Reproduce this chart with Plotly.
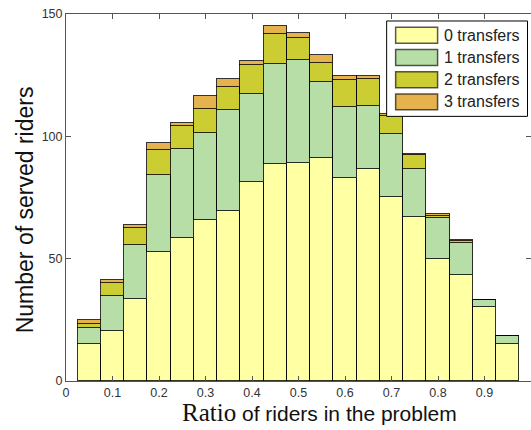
import plotly.graph_objects as go

# ---------------- data ----------------
bin_centers = [0.05, 0.10, 0.15, 0.20, 0.25, 0.30, 0.35, 0.40, 0.45, 0.50,
               0.55, 0.60, 0.65, 0.70, 0.75, 0.80, 0.85, 0.90, 0.95]
bin_width = 0.05

transfers_0 = [15.1, 20.4, 33.5, 52.8, 58.5, 66.0, 69.5, 81.3, 88.8, 89.3,
               91.1, 83.1, 86.5, 75.2, 67.1, 49.7, 43.5, 30.1, 15.1]
transfers_1 = [6.4, 14.3, 21.9, 31.3, 36.5, 35.5, 41.4, 36.1, 40.6, 42.0,
               31.1, 29.0, 26.0, 25.9, 19.4, 17.1, 12.8, 3.2, 3.3]
transfers_2 = [1.8, 5.2, 7.3, 10.5, 9.1, 9.8, 9.2, 11.9, 12.5, 8.8,
               7.9, 11.0, 11.0, 7.2, 5.7, 0.8, 1.0, 0.0, 0.0]
transfers_3 = [1.6, 1.3, 1.1, 2.7, 1.5, 5.1, 3.4, 1.3, 3.0, 2.1,
               3.2, 1.7, 1.3, 1.0, 0.7, 0.6, 0.3, 0.0, 0.0]

series_names = ["0 transfers", "1 transfers", "2 transfers", "3 transfers"]
series_values = [transfers_0, transfers_1, transfers_2, transfers_3]
series_colors = ["#FFFFA3", "#B6DEA6", "#CCCC33", "#E6B24D"]

x_tickvals = [0, 0.1, 0.2, 0.3, 0.4, 0.5, 0.6, 0.7, 0.8, 0.9, 1.0]
x_ticktext = ["0", "0.1", "0.2", "0.3", "0.4", "0.5", "0.6", "0.7", "0.8", "0.9", "1"]
y_tickvals = [0, 50, 100, 150]
y_ticktext = ["0", "50", "100", "150"]

x_title_serif = "Ratio"
x_title_rest = " of riders in the problem"
y_title = "Number of served riders"

# ---------------- layout constants (pixels) ----------------
W, H = 531, 430
ML, MR, MT, MB = 65.5, 0, 13.5, 49
PW = W - ML - MR
PH = H - MT - MB


def px(xp):
    return (xp - ML) / PW


def py(yp):
    return (H - MB - yp) / PH


fig = go.Figure()
for name, vals, col in zip(series_names, series_values, series_colors):
    fig.add_trace(go.Bar(
        x=bin_centers, y=vals, width=bin_width, name=name,
        marker=dict(color=col, line=dict(color="rgba(0,0,0,0.8)", width=1)),
        showlegend=False,
    ))

# manual legend (wide swatches like the original)
shapes = [dict(type="rect", xref="paper", yref="paper",
               x0=px(386.5), x1=px(527.5), y0=py(116), y1=py(20.5),
               fillcolor="white", line=dict(color="black", width=1), layer="above")]
annotations = []
row_centers = [34.7, 57.0, 79.3, 101.5]
for name, col, yc in zip(series_names, series_colors, row_centers):
    shapes.append(dict(type="rect", xref="paper", yref="paper",
                       x0=px(395.5), x1=px(437.5), y0=py(yc + 8), y1=py(yc - 8),
                       fillcolor=col, line=dict(color="rgba(0,0,0,0.65)", width=1.5),
                       layer="above"))
    annotations.append(dict(xref="paper", yref="paper", x=px(442), y=py(yc),
                            xanchor="left", yanchor="middle", showarrow=False,
                            text=name,
                            font=dict(family="Liberation Sans, Arial", size=16, color="#222")))

annotations.append(dict(
    xref="paper", yref="paper", x=px(319.5), y=py(413), xanchor="center", yanchor="middle",
    showarrow=False,
    text=('<span style="font-family:\'Liberation Serif\', \'Times New Roman\', serif;font-size:25px">'
          + x_title_serif + '</span>' + x_title_rest),
    font=dict(family="Liberation Sans, Arial", size=21, color="#111")))
annotations.append(dict(
    xref="paper", yref="paper", x=px(24.5), y=py(210), xanchor="center", yanchor="middle",
    showarrow=False, textangle=-90, text=y_title,
    font=dict(family="Liberation Sans, Arial", size=23, color="#111")))

axis_common = dict(
    showgrid=False, zeroline=False, showline=True, linecolor="#555", linewidth=1,
    mirror="ticks", ticks="inside", ticklen=5, tickcolor="#555", tickwidth=1,
    tickfont=dict(family="Liberation Sans, Arial", size=12.5, color="#333"),
    tickmode="array",
)

fig.update_layout(
    width=W, height=H,
    margin=dict(l=ML, r=MR, t=MT, b=MB, pad=0),
    paper_bgcolor="white", plot_bgcolor="white",
    barmode="stack", bargap=0,
    xaxis=dict(range=[0, 1], tickvals=x_tickvals, ticktext=x_ticktext, **axis_common),
    yaxis=dict(range=[0, 150], tickvals=y_tickvals, ticktext=y_ticktext, **axis_common),
    shapes=shapes, annotations=annotations,
    showlegend=False,
)

fig.write_html("out.html", config={"displayModeBar": False},
               post_script="document.body.style.margin='0';document.body.style.overflow='hidden';")
